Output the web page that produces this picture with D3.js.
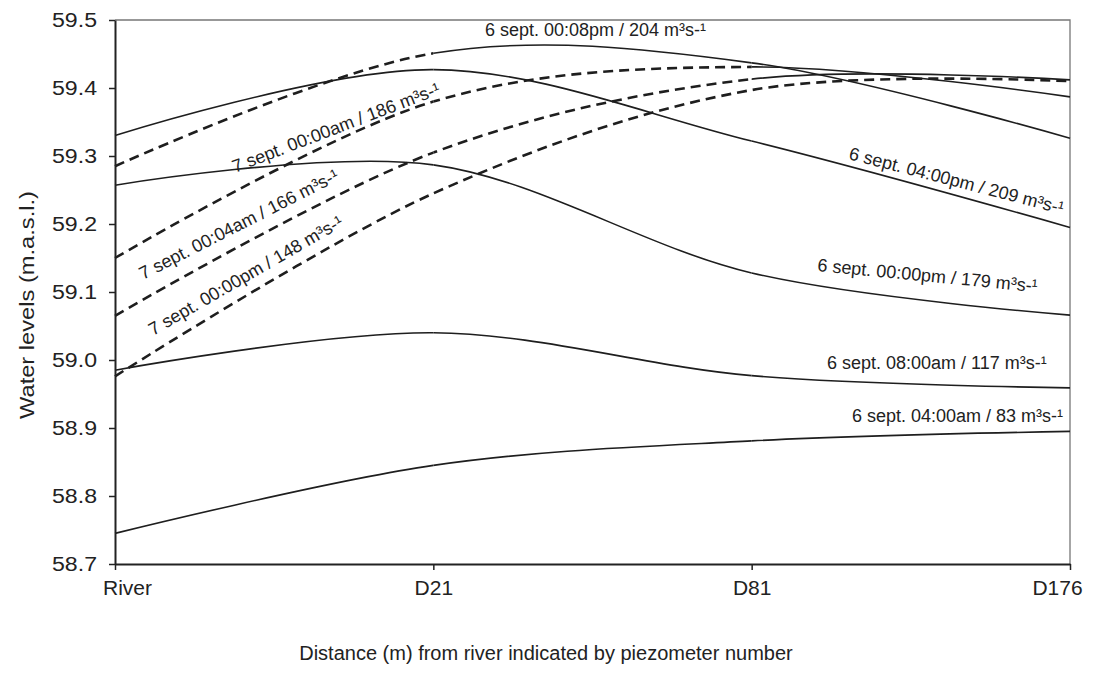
<!DOCTYPE html>
<html>
<head>
<meta charset="utf-8">
<script src="https://cdn.jsdelivr.net/npm/d3@7"></script>
<style>
  body { margin: 0; background: #fff; }
  text { font-family: "Liberation Sans", Arial, sans-serif; fill: #222; }
</style>
</head>
<body>
<svg id="chart" width="1093" height="686"></svg>
<script>
// Piezometer positions along the transect, from the river bank outward
const piezometers = ["River", "D21", "D81", "D176"];
const levelTicks = [58.7, 58.8, 58.9, 59.0, 59.1, 59.2, 59.3, 59.4, 59.5];

// Water levels (m a.s.l.) at River, D21, D81, D176 for each time step
const sept6_0400am = [58.745, 58.845, 58.881, 58.895];
const sept6_0800am = [58.985, 59.040, 58.977, 58.959];
const sept6_1200pm = [59.257, 59.287, 59.128, 59.066];
const sept6_0400pm = [59.330, 59.427, 59.322, 59.195];
const sept6_0008pm = [59.285, 59.451, 59.437, 59.326];
const sept7_0000am = [59.150, 59.380, 59.431, 59.387];
const sept7_0004am = [59.065, 59.305, 59.413, 59.412];
const sept7_0000pm = [58.976, 59.245, 59.397, 59.410];

const seriesNames = [
  "6 sept. 04:00am / 83 m³s-¹",
  "6 sept. 08:00am / 117 m³s-¹",
  "6 sept. 00:00pm / 179 m³s-¹",
  "6 sept. 04:00pm / 209 m³s-¹",
  "6 sept. 00:08pm / 204 m³s-¹",
  "7 sept. 00:00am / 186 m³s-¹",
  "7 sept. 00:04am / 166 m³s-¹",
  "7 sept. 00:00pm / 148 m³s-¹"
];

// Line style of each segment (River–D21, D21–D81, D81–D176)
const S = "solid", D = "dashed";
const series = [
  { name: seriesNames[0], values: sept6_0400am, seg: [S, S, S] },
  { name: seriesNames[1], values: sept6_0800am, seg: [S, S, S] },
  { name: seriesNames[2], values: sept6_1200pm, seg: [S, S, S] },
  { name: seriesNames[3], values: sept6_0400pm, seg: [S, S, S] },
  { name: seriesNames[4], values: sept6_0008pm, seg: [D, S, S] },
  { name: seriesNames[5], values: sept7_0000am, seg: [D, D, S] },
  { name: seriesNames[6], values: sept7_0004am, seg: [D, D, S] },
  { name: seriesNames[7], values: sept7_0000pm, seg: [D, D, D] }
];

// Where each curve's name is written, and at what angle
const labelPlacement = [
  { x: 852, y: 422, a: 0 },
  { x: 827, y: 369, a: 0 },
  { x: 817, y: 271, a: 5.5 },
  { x: 848, y: 159, a: 14.5 },
  { x: 485, y: 36,  a: 0 },
  { x: 235, y: 173, a: -21 },
  { x: 143, y: 280, a: -27 },
  { x: 153, y: 336, a: -30 }
];

const svg = d3.select("#chart");
const plotLeft = 115, plotRight = 1070, plotTop = 20, plotBottom = 564;

const x = d3.scalePoint().domain(piezometers).range([plotLeft, plotRight]);
const y = d3.scaleLinear().domain([58.7, 59.5]).range([plotBottom, plotTop]);

// Plot frame (top and right edges)
svg.append("path")
  .attr("d", `M${plotLeft},${plotTop}H${plotRight}V${plotBottom}`)
  .attr("fill", "none")
  .attr("stroke", "#777")
  .attr("stroke-width", 1.3);

// One clip band per segment between neighbouring piezometers
const defs = svg.append("defs");
d3.range(piezometers.length - 1).forEach(i => {
  const x0 = i === 0 ? 0 : x(piezometers[i]);
  const x1 = i === piezometers.length - 2 ? 1093 : x(piezometers[i + 1]);
  defs.append("clipPath").attr("id", `seg${i}`)
    .append("rect").attr("x", x0).attr("y", 0)
    .attr("width", x1 - x0).attr("height", 686);
});

const line = d3.line()
  .x((d, i) => x(piezometers[i]))
  .y(d => y(d))
  .curve(d3.curveCardinal.tension(0));

const curves = svg.append("g").attr("fill", "none").attr("stroke", "#1e1e1e");

series.forEach(s => {
  const d = line(s.values);
  s.seg.forEach((style, i) => {
    const p = curves.append("path").attr("d", d).attr("clip-path", `url(#seg${i})`);
    if (style === D) p.attr("stroke-width", 2.6).attr("stroke-dasharray", "10,6");
    else p.attr("stroke-width", 1.6);
  });
});

// Curve labels
svg.append("g").selectAll("text")
  .data(series)
  .join("text")
  .attr("transform", (d, i) => `translate(${labelPlacement[i].x},${labelPlacement[i].y}) rotate(${labelPlacement[i].a})`)
  .attr("font-size", 18)
  .text(d => d.name);

// Y axis
const yAxis = svg.append("g")
  .attr("transform", `translate(${plotLeft},0)`)
  .call(d3.axisLeft(y).tickValues(levelTicks).tickFormat(d3.format(".1f")).tickSize(6).tickSizeOuter(0).tickPadding(12));
yAxis.select(".domain").attr("stroke", "#222").attr("stroke-width", 2);
yAxis.selectAll(".tick line").attr("stroke", "#222").attr("stroke-width", 1.5);
yAxis.selectAll(".tick text").attr("font-size", 19.5).attr("fill", "#222")
  .attr("font-family", "Liberation Sans, Arial, sans-serif")
  .attr("textLength", 45).attr("lengthAdjust", "spacingAndGlyphs");

// X axis
const xAxis = svg.append("g")
  .attr("transform", `translate(0,${plotBottom})`)
  .call(d3.axisBottom(x).tickSize(6).tickSizeOuter(0).tickPadding(10));
xAxis.select(".domain").attr("stroke", "#222").attr("stroke-width", 2);
xAxis.selectAll(".tick line").attr("stroke", "#222").attr("stroke-width", 1.5);
xAxis.selectAll(".tick text").attr("font-size", 21).attr("fill", "#222")
  .attr("font-family", "Liberation Sans, Arial, sans-serif")
  .attr("dx", d => d === piezometers[0] ? 12 : d === piezometers[piezometers.length - 1] ? -13 : 0);

// Axis titles
svg.append("text")
  .attr("x", 546).attr("y", 660)
  .attr("text-anchor", "middle")
  .attr("font-size", 20)
  .text("Distance (m) from river indicated by piezometer number");

svg.append("text")
  .attr("transform", "translate(34,305) rotate(-90)")
  .attr("text-anchor", "middle")
  .attr("font-size", 20)
  .attr("textLength", 228).attr("lengthAdjust", "spacingAndGlyphs")
  .text("Water levels (m.a.s.l.)");
</script>
</body>
</html>
